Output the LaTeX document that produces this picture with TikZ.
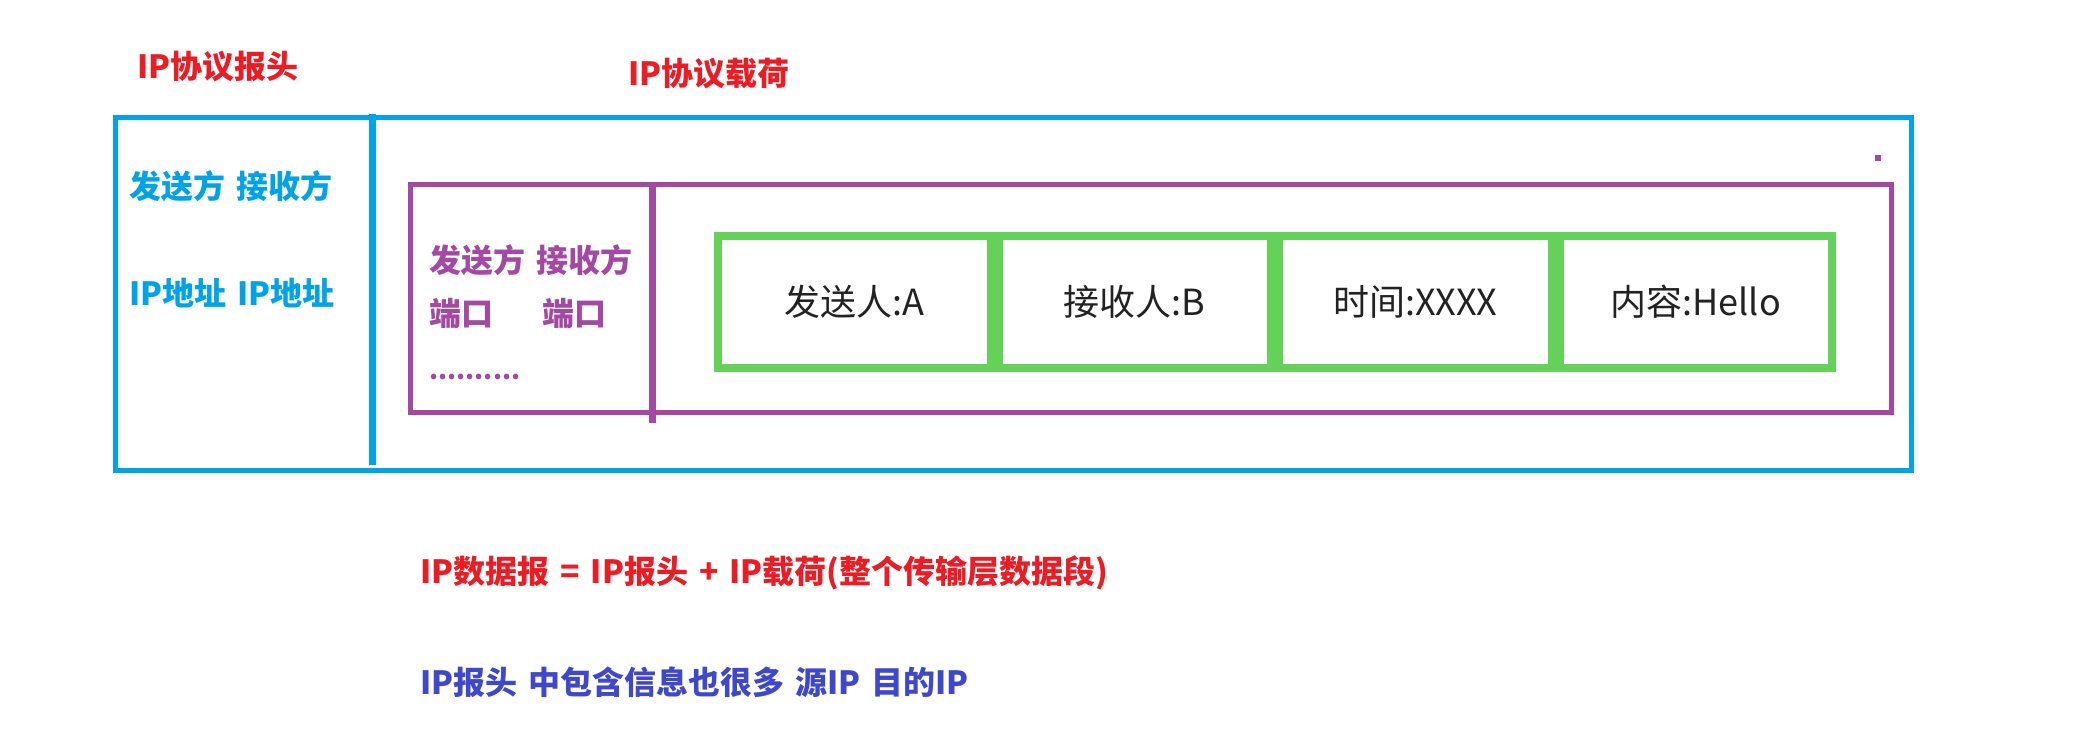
\documentclass[tikz,border=0pt]{standalone}
\usepackage{fontspec}
\setmainfont[WordSpace=1.5]{Noto Sans CJK SC}
\usetikzlibrary{positioning}
\definecolor{hdrred}{RGB}{237,28,36}
\definecolor{hdrblue}{RGB}{0,162,232}
\definecolor{portpurple}{RGB}{163,73,164}
\definecolor{cellgreen}{RGB}{100,210,88}
\definecolor{noteblue}{RGB}{63,72,204}
\definecolor{celltext}{RGB}{34,34,34}
\tikzset{
  lbl/.style={anchor=west,inner sep=0pt,font=\fontsize{32}{38}\selectfont\bfseries},
  cell/.style={draw=cellgreen,line width=8pt,minimum width=272.5pt,minimum height=132pt,
    inner sep=0pt,text=celltext,font=\fontsize{36}{42}\selectfont},
}
\begin{document}
\begin{tikzpicture}[x=1pt,y=-1pt]
\useasboundingbox (0,0) rectangle (2094,735);
% titles
\node[lbl,text=hdrred] (hdrtitle) at (137,67) {IP协议报头};
\node[lbl,text=hdrred] (paytitle) at (628,74) {IP协议载荷};
% IP frame
\draw[hdrblue,line width=5pt] (115.5,117.5) rectangle (1911.5,470);
\draw[hdrblue,line width=7pt] (372.5,114) -- (372.5,465);
\node[lbl,text=hdrblue] (ipsend) at (129,186) {发送方 接收方};
\node[lbl,text=hdrblue] (ipaddr) at (129,293) {IP地址 IP地址};
% transport frame
\draw[portpurple,line width=5pt] (410,184.5) rectangle (1891.5,412);
\draw[portpurple,line width=7pt] (652.5,184.5) -- (652.5,422.7);
\fill[portpurple] (1875,155) rectangle (1881,161);
\node[lbl,text=portpurple] (tpsend) at (429,260) {发送方 接收方};
\node[lbl,text=portpurple] (srcport) at (429,313) {端口};
\node[lbl,text=portpurple] (dstport) at (542,313) {端口};
\node[lbl,text=portpurple,font=\fontsize{26}{30}\selectfont\bfseries] (tpdots) at (429,377) {..........};
% application data
\node[cell] (sender) at (854.25,302) {发送人:A};
\node[cell,right=0pt of sender] (receiver) {接收人:B};
\node[cell,right=0pt of receiver] (sendtime) {时间:XXXX};
\node[cell,right=0pt of sendtime] (message) {内容:Hello};
% notes
\node[lbl,text=hdrred] (formula) at (420,573) {IP数据报 = IP报头 + IP载荷(整个传输层数据段)};
\node[lbl,text=noteblue] (hdrnote) at (420,682) {IP报头 中包含信息也很多 源IP 目的IP};
\end{tikzpicture}
\end{document}
